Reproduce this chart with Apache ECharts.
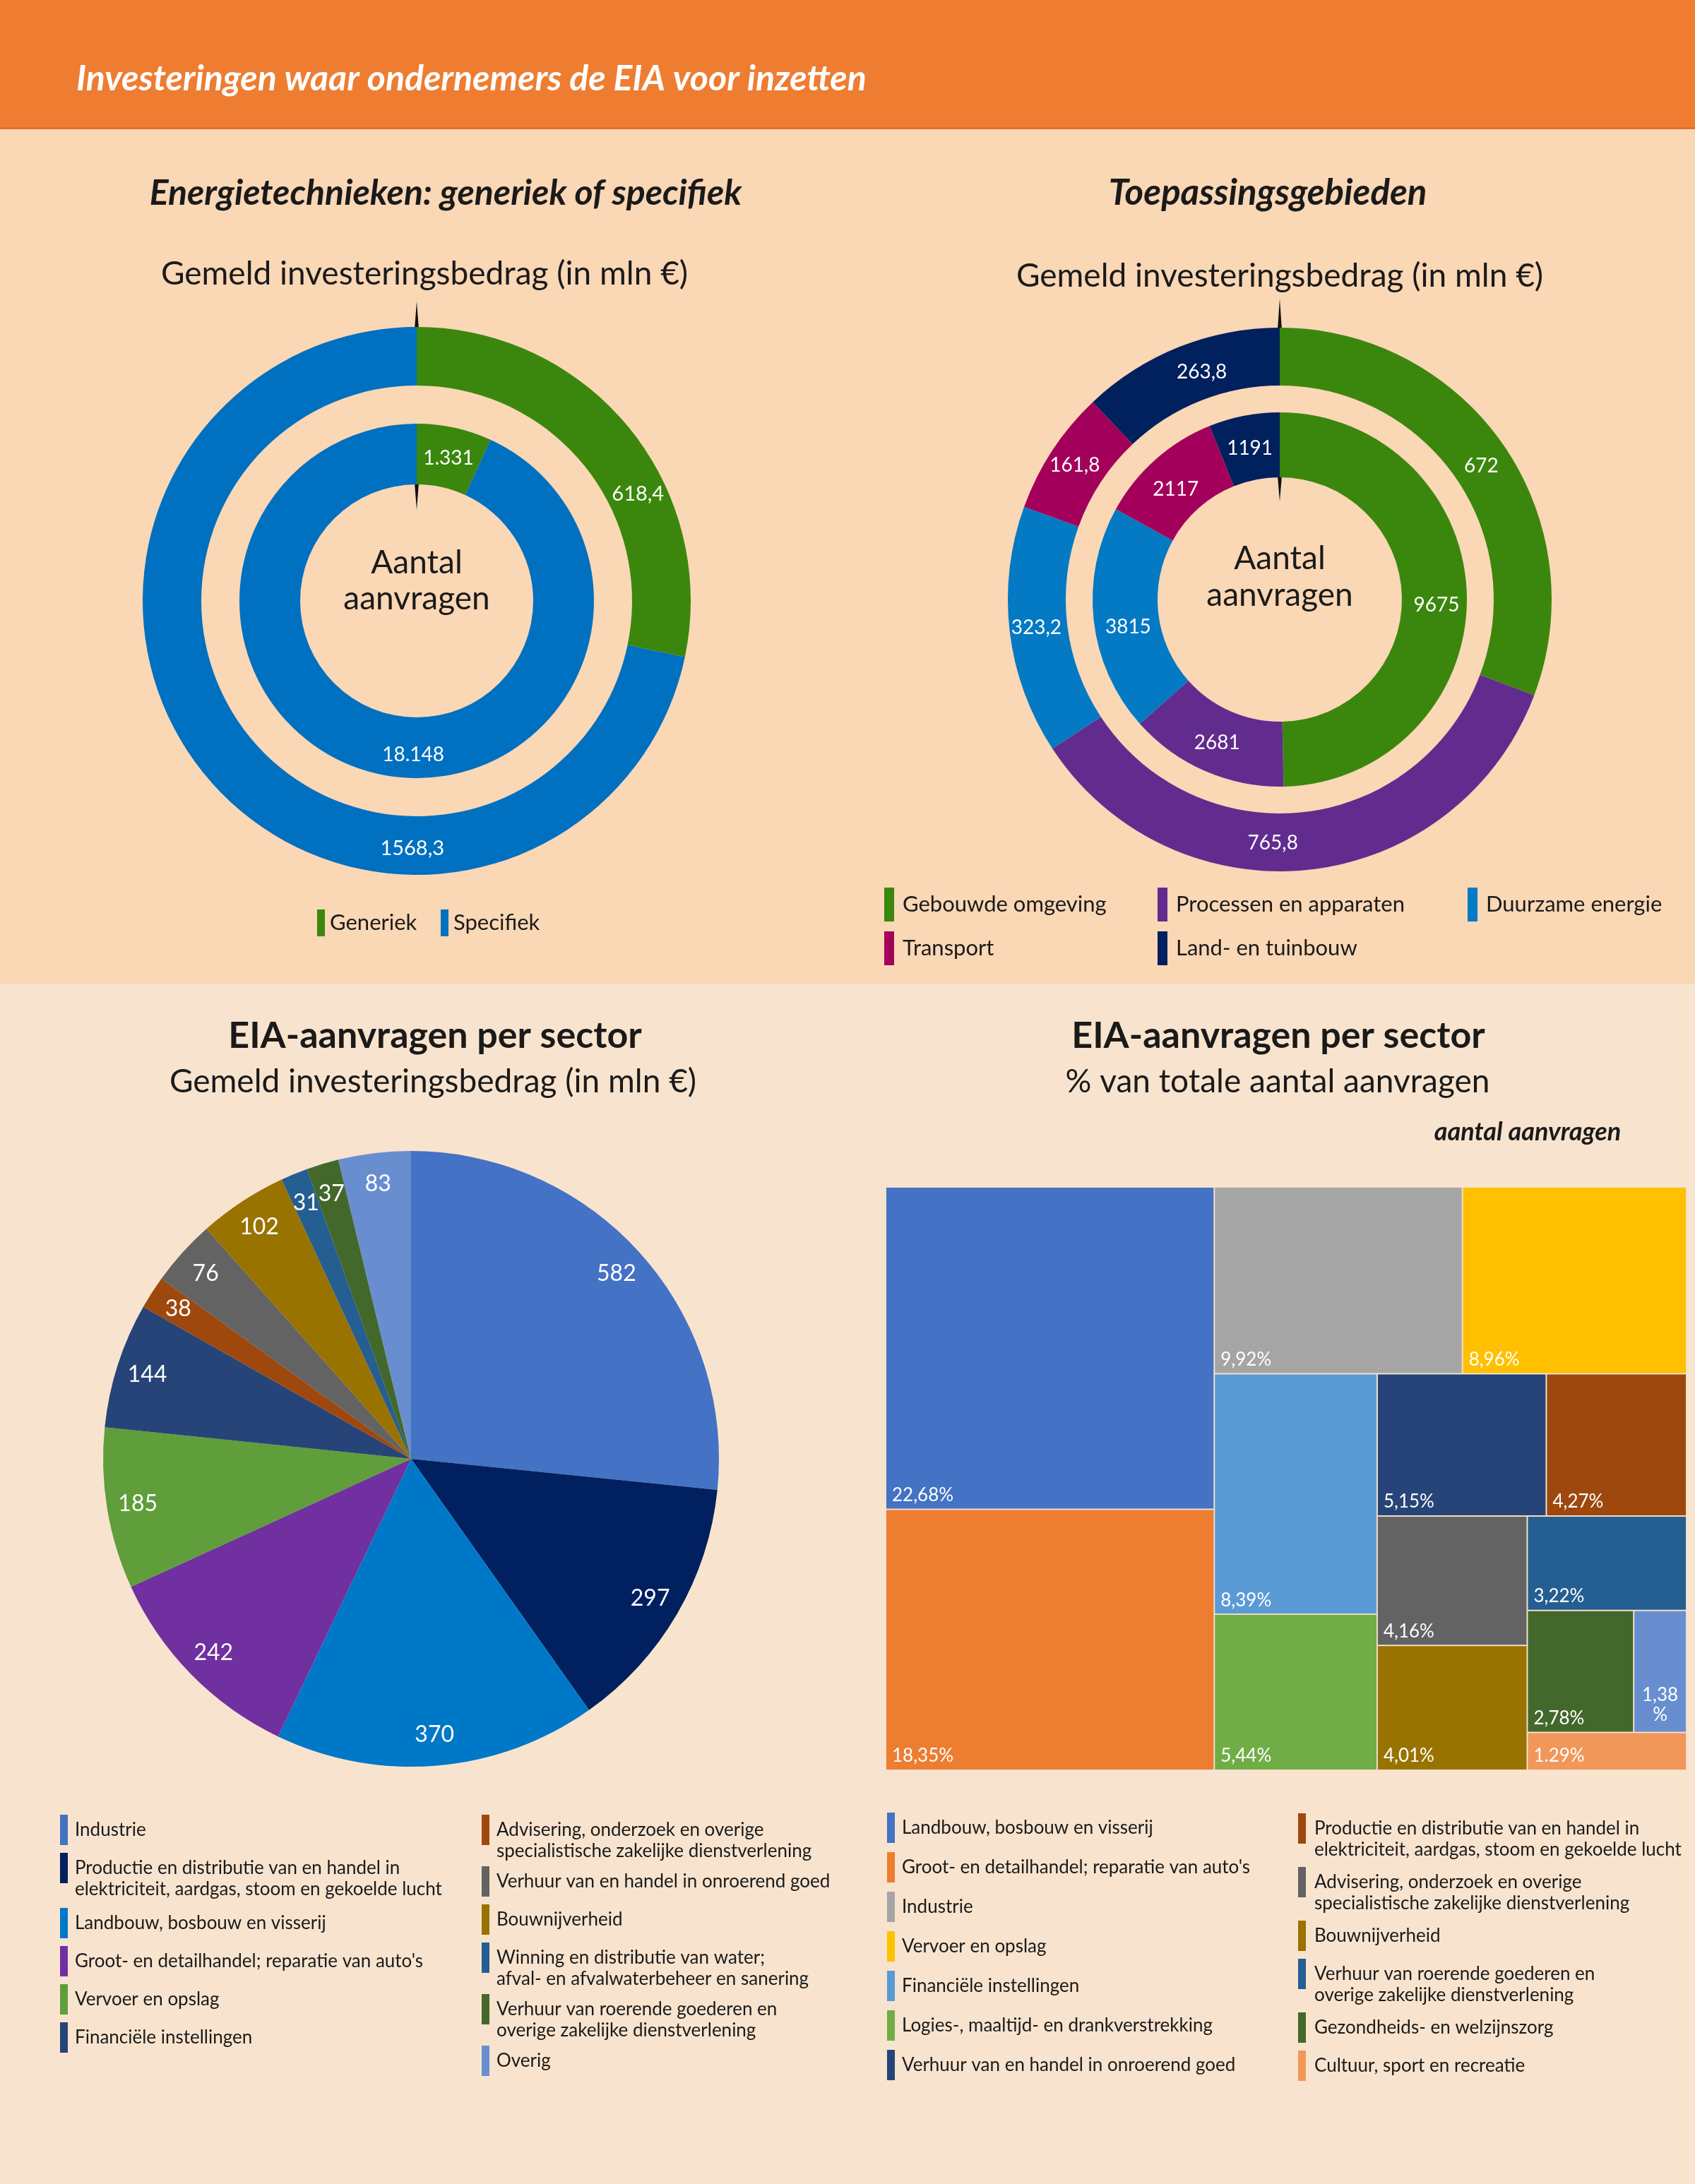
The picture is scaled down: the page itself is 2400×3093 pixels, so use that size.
<!DOCTYPE html>
<html>
<head>
<meta charset="utf-8">
<script src="https://cdn.jsdelivr.net/npm/echarts@6/dist/echarts.min.js"></script>
<style>
html, body { margin: 0; padding: 0; }
#chart { width: 2400px; height: 3093px; }
</style>
</head>
<body>
<div id="chart"></div>
<script>
// Energietechnieken: generiek of specifiek
const techNames = ['Generiek', 'Specifiek'];
const techBedrag = [618.4, 1568.3];
const techAantal = [1331, 18148];
const techColors = ['#3b870e', '#0070c0'];

// Toepassingsgebieden
const gebiedNames = ['Gebouwde omgeving', 'Processen en apparaten', 'Duurzame energie', 'Transport', 'Land- en tuinbouw'];
const gebiedBedrag = [672, 765.8, 323.2, 161.8, 263.8];
const gebiedAantal = [9675, 2681, 3815, 2117, 1191];
const gebiedColors = ['#3b870e', '#622c8f', '#0479c4', '#a3005b', '#00205e'];

// EIA-aanvragen per sector, gemeld investeringsbedrag
const sectorNames = [
  'Industrie',
  'Productie en distributie van en handel in\nelektriciteit, aardgas, stoom en gekoelde lucht',
  'Landbouw, bosbouw en visserij',
  "Groot- en detailhandel; reparatie van auto's",
  'Vervoer en opslag',
  'Financiële instellingen',
  'Advisering, onderzoek en overige\nspecialistische zakelijke dienstverlening',
  'Verhuur van en handel in onroerend goed',
  'Bouwnijverheid',
  'Winning en distributie van water;\nafval- en afvalwaterbeheer en sanering',
  'Verhuur van roerende goederen en\noverige zakelijke dienstverlening',
  'Overig'
];
const sectorBedrag = [582, 297, 370, 242, 185, 144, 38, 76, 102, 31, 37, 83];
const sectorColors = ['#4472c4', '#00205f', '#0078c8', '#7030a0', '#5f9e3a', '#264478',
                      '#9e480e', '#636363', '#997300', '#255e91', '#43682b', '#698ed0'];

// EIA-aanvragen per sector, % van totale aantal aanvragen
const aandeelNames = [
  'Landbouw, bosbouw en visserij',
  "Groot- en detailhandel; reparatie van auto's",
  'Industrie',
  'Vervoer en opslag',
  'Financiële instellingen',
  'Logies-, maaltijd- en drankverstrekking',
  'Verhuur van en handel in onroerend goed',
  'Productie en distributie van en handel in\nelektriciteit, aardgas, stoom en gekoelde lucht',
  'Advisering, onderzoek en overige\nspecialistische zakelijke dienstverlening',
  'Bouwnijverheid',
  'Verhuur van roerende goederen en\noverige zakelijke dienstverlening',
  'Gezondheids- en welzijnszorg',
  'Overig',
  'Cultuur, sport en recreatie'
];
const aandeelPct = [22.68, 18.35, 9.92, 8.96, 8.39, 5.44, 5.15, 4.27, 4.16, 4.01, 3.22, 2.78, 1.38, 1.29];
const aandeelLabels = ['22,68%', '18,35%', '9,92%', '8,96%', '8,39%', '5,44%', '5,15%',
                       '4,27%', '4,16%', '4,01%', '3,22%', '2,78%', '1,38\n%', '1.29%'];
const aandeelColors = ['#4472c4', '#ed7d31', '#a5a5a5', '#ffc000', '#5b9bd5', '#70ad47', '#264478',
                       '#9e480e', '#636363', '#997300', '#255e91', '#43682b', '#698ed0', '#f1975a'];

const FONT = 'Lato, "Noto Sans", sans-serif';
const INK = '#1a1a1a';

function txt(text, x, y, font, opts) {
  opts = opts || {};
  return {
    type: 'text',
    style: {
      text: text, x: x, y: y, font: font,
      fill: opts.fill || INK,
      align: opts.align || 'center', textAlign: opts.align || 'center',
      verticalAlign: opts.va || 'middle', textVerticalAlign: opts.va || 'middle',
      lineHeight: opts.lineHeight
    }
  };
}

// legend column: marker bar + (multi-line) text
function legendColumn(names, colors, o) {
  const els = [];
  let y = o.top;
  names.forEach(function (name, i) {
    const lines = name.split('\n').length;
    els.push({ type: 'rect', shape: { x: o.x, y: y, width: o.mw, height: o.mh }, style: { fill: colors[i] } });
    els.push(txt(name, o.x + o.tx, y + o.mh / 2 - o.lh / 2, o.font, { align: 'left', va: 'top', lineHeight: o.lh }));
    y += lines > 1 ? o.step2 : o.step1;
  });
  return els;
}

const fmtComma = v => String(v).replace('.', ',');
const fmtThousands = v => String(v).replace(/\B(?=(\d{3})+(?!\d))/g, '.');

// label nudges (px) so the ring labels sit where the original puts them
const techOuterShift = [[42, 69], [265, 130]];
const techInnerShift = [[0, 4], [40, 12]];
const gebiedOuterShift = [[0, 8], [-48, 0], [0, 0], [0, 0], [18, 0]];
const gebiedInnerShift = [[0, 10], [0, 0], [6, 14], [0, 10], [0, 4]];

function ring(center, radius, names, values, colors, fontSize, fmt, shift) {
  return {
    type: 'pie', center: center, radius: radius, startAngle: 90, clockwise: true,
    silent: true, animation: false,
    label: { show: true, position: 'inside', color: '#fff', fontSize: fontSize, fontFamily: FONT, formatter: p => fmt(p.value) },
    labelLine: { show: false },
    labelLayout: p => ({ dx: shift[p.dataIndex][0], dy: shift[p.dataIndex][1] }),
    emphasis: { disabled: true },
    data: names.map((n, i) => ({ name: n, value: values[i], itemStyle: { color: colors[i] } }))
  };
}

const leftC = [590, 851];
const rightC = [1812, 849];
const pieC = [582, 2066];

const graphics = [
  // backgrounds
  { type: 'rect', shape: { x: 0, y: 0, width: 2400, height: 183 }, style: { fill: '#ee7d32' } },
  { type: 'rect', shape: { x: 0, y: 180, width: 2400, height: 3 }, style: { fill: '#e2702c' } },
  { type: 'rect', shape: { x: 0, y: 183, width: 2400, height: 1210 }, style: { fill: '#fad7b5' } },
  { type: 'rect', shape: { x: 0, y: 1393, width: 2400, height: 1700 }, style: { fill: '#f8e4ce' } },

  txt('Investeringen waar ondernemers de EIA voor inzetten', 108, 112, 'italic bold 50px ' + FONT, { fill: '#fff', align: 'left' }),

  txt('Energietechnieken: generiek of specifiek', 631, 274, 'italic bold 50px ' + FONT),
  txt('Gemeld investeringsbedrag (in mln €)', 601, 388, '46px ' + FONT),
  txt('Aantal', leftC[0], 797, '46px ' + FONT),
  txt('aanvragen', leftC[0], 848, '46px ' + FONT),

  txt('Toepassingsgebieden', 1795, 274, 'italic bold 51px ' + FONT),
  txt('Gemeld investeringsbedrag (in mln €)', 1812, 391, '46px ' + FONT),
  txt('Aantal', rightC[0], 791, '46px ' + FONT),
  txt('aanvragen', rightC[0], 843, '46px ' + FONT),

  txt('EIA-aanvragen per sector', 616, 1467, 'bold 52px ' + FONT),
  txt('Gemeld investeringsbedrag (in mln €)', 613, 1532, '46px ' + FONT),
  txt('EIA-aanvragen per sector', 1810, 1467, 'bold 52px ' + FONT),
  txt('% van totale aantal aanvragen', 1809, 1532, '46px ' + FONT),
  txt('aantal aanvragen', 2163, 1603, 'italic bold 36px ' + FONT),

  // start markers at 12 o'clock
  { type: 'polygon', shape: { points: [[leftC[0] - 3, 466], [leftC[0] + 3, 466], [leftC[0], 427]] }, style: { fill: '#111' } },
  { type: 'polygon', shape: { points: [[leftC[0] - 3, 684], [leftC[0] + 3, 684], [leftC[0], 722]] }, style: { fill: '#111' } },
  { type: 'polygon', shape: { points: [[rightC[0] - 3, 467], [rightC[0] + 3, 467], [rightC[0], 423]] }, style: { fill: '#111' } },
  { type: 'polygon', shape: { points: [[rightC[0] - 3, 674], [rightC[0] + 3, 674], [rightC[0], 710]] }, style: { fill: '#111' } }
];

// legends
const topFont = '31px ' + FONT;
const smallFont = '26px ' + FONT;
graphics.push.apply(graphics, legendColumn([techNames[0]], [techColors[0]], { x: 449, top: 1288, mw: 11, mh: 38, tx: 18, lh: 36, step1: 60, step2: 60, font: topFont }));
graphics.push.apply(graphics, legendColumn([techNames[1]], [techColors[1]], { x: 624, top: 1288, mw: 11, mh: 38, tx: 18, lh: 36, step1: 60, step2: 60, font: topFont }));
const topR = { top: 1257, mw: 14, mh: 48, tx: 26, lh: 36, step1: 62, step2: 62, font: topFont };
graphics.push.apply(graphics, legendColumn([gebiedNames[0], gebiedNames[3]], [gebiedColors[0], gebiedColors[3]], Object.assign({ x: 1252 }, topR)));
graphics.push.apply(graphics, legendColumn([gebiedNames[1], gebiedNames[4]], [gebiedColors[1], gebiedColors[4]], Object.assign({ x: 1639 }, topR)));
graphics.push.apply(graphics, legendColumn([gebiedNames[2]], [gebiedColors[2]], Object.assign({ x: 2078 }, topR)));

const smallL = { mw: 11, mh: 43, tx: 21, lh: 30, font: smallFont };
graphics.push.apply(graphics, legendColumn(sectorNames.slice(0, 6), sectorColors.slice(0, 6), Object.assign({ x: 85, top: 2570, step1: 54, step2: 78 }, smallL)));
graphics.push.apply(graphics, legendColumn(sectorNames.slice(6), sectorColors.slice(6), Object.assign({ x: 682, top: 2570, step1: 54, step2: 73 }, smallL)));

const legendIdx = aandeelNames.map((n, i) => i).filter(i => aandeelNames[i] !== 'Overig');
const treeLegNames = legendIdx.map(i => aandeelNames[i]);
const treeLegColors = legendIdx.map(i => aandeelColors[i]);
graphics.push.apply(graphics, legendColumn(treeLegNames.slice(0, 7), treeLegColors.slice(0, 7), Object.assign({ x: 1256, top: 2567, step1: 56, step2: 76 }, smallL)));
graphics.push.apply(graphics, legendColumn(treeLegNames.slice(7), treeLegColors.slice(7), Object.assign({ x: 1838, top: 2568, step1: 54, step2: 76 }, smallL, { tx: 23 })));

const option = {
  animation: false,
  graphic: { elements: graphics },
  series: [
    ring(leftC, [305, 388], techNames, techBedrag, techColors, 29, fmtComma, techOuterShift),
    ring(leftC, [165, 251], techNames, techAantal, techColors, 28, fmtThousands, techInnerShift),
    ring(rightC, [303, 385], gebiedNames, gebiedBedrag, gebiedColors, 28, fmtComma, gebiedOuterShift),
    ring(rightC, [173, 265], gebiedNames, gebiedAantal, gebiedColors, 28, v => String(v), gebiedInnerShift),
    {
      type: 'pie', center: pieC, radius: [0, 436], startAngle: 90, clockwise: true,
      silent: true, label: { show: false }, labelLine: { show: false }, emphasis: { disabled: true },
      data: sectorNames.map((n, i) => ({ name: n, value: sectorBedrag[i], itemStyle: { color: sectorColors[i] } }))
    },
    {
      // label ring near the rim
      type: 'pie', center: pieC, radius: [342, 436], startAngle: 90, clockwise: true,
      silent: true, labelLine: { show: false }, emphasis: { disabled: true },
      avoidLabelOverlap: false, minShowLabelAngle: 0,
      labelLayout: { hideOverlap: false },
      label: { show: true, position: 'inside', color: '#fff', fontSize: 32, fontFamily: FONT, overflow: 'none', formatter: p => String(p.value) },
      data: sectorNames.map((n, i) => ({ name: n, value: sectorBedrag[i], itemStyle: { color: 'rgba(0,0,0,0)' } }))
    },
    {
      type: 'treemap', left: 1254, top: 1681, width: 1134, height: 826,
      squareRatio: 1.13, roam: false, nodeClick: false, silent: true,
      breadcrumb: { show: false },
      levels: [
        { itemStyle: { borderWidth: 0, gapWidth: 0 } },
        { itemStyle: { borderWidth: 1, borderColor: '#efdcc6', gapWidth: 0 } }
      ],
      label: { show: true, position: 'insideBottomLeft', color: '#fff', fontSize: 26, fontFamily: FONT, padding: [0, 4, 6, 8] },
      upperLabel: { show: false },
      data: aandeelNames.map((n, i) => ({
        name: n, value: aandeelPct[i],
        itemStyle: { color: aandeelColors[i] },
        label: aandeelLabels[i].indexOf('\n') >= 0
          ? { formatter: aandeelLabels[i], position: 'insideBottom', align: 'center', lineHeight: 28, padding: [0, 0, 10, 0] }
          : { formatter: aandeelLabels[i] }
      }))
    }
  ]
};

const chart = echarts.init(document.getElementById('chart'), null, { renderer: 'canvas' });
chart.setOption(option);
</script>
</body>
</html>
